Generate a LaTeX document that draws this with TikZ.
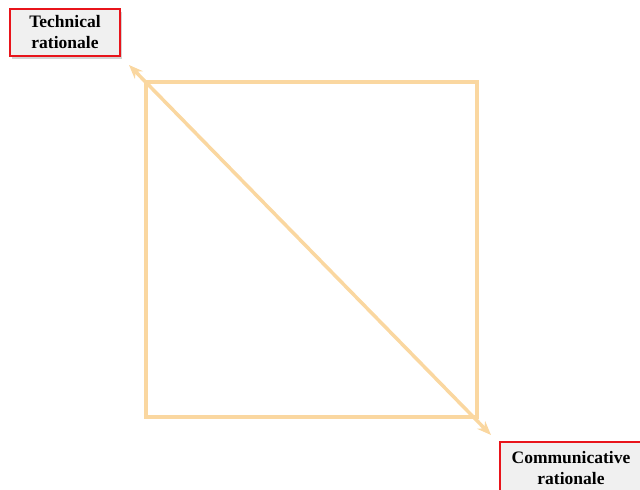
\documentclass[tikz,border=0pt]{standalone}
\usepackage{fontspec}
\setmainfont{Liberation Serif}
\usetikzlibrary{arrows.meta, positioning, shadows}
\definecolor{quadline}{HTML}{FAD7A0}
\definecolor{tagred}{HTML}{E8141B}
\definecolor{tagfill}{HTML}{F0F0F0}

\begin{document}
\begin{tikzpicture}[
      x=1pt, y=-1pt,
      font=\fontsize{17.5}{21}\selectfont\bfseries,
      tag/.style={draw=tagred, fill=tagfill, line width=1.5pt,
                  align=center, inner sep=0pt,
                  drop shadow={shadow xshift=1.5pt, shadow yshift=-2.5pt, opacity=0.35}},
      frame/.style={draw=quadline, line width=3.5pt},
      ar/.style={{Stealth[length=14pt,width=11pt]}-{Stealth[length=14pt,width=11pt]},
                 quadline, line width=3.5pt},
    ]
    \useasboundingbox (0,0) rectangle (640,490);

    \node[tag, minimum width=110pt, minimum height=47pt] (tech) at (65,32.5) {Technical\\rationale};
    \node[tag, minimum width=142pt, minimum height=52pt] (comm) at (571,468) {Communicative\\rationale};

    \draw[frame] (146,82) rectangle (477,417);

    \coordinate (tl) at (129,65);
    \coordinate (br) at (491,435);
    \draw[ar] (tl) -- (br);
  \end{tikzpicture}
\end{document}
